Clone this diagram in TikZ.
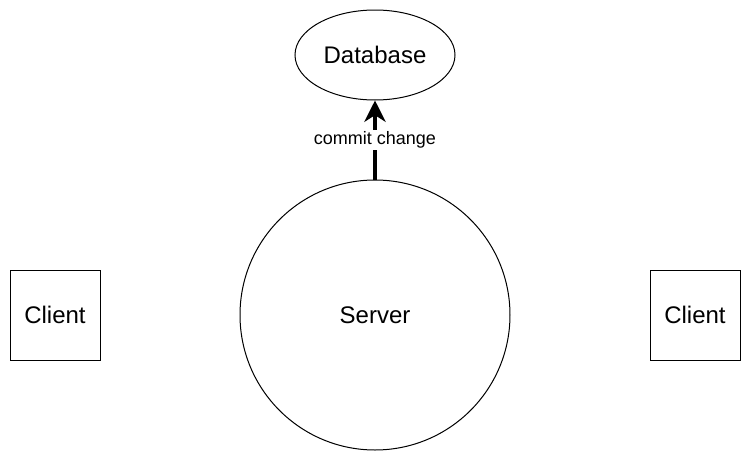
\documentclass[tikz,border=0pt]{standalone}
\usepackage{fontspec}
\setmainfont{Liberation Sans}
\usetikzlibrary{shapes.geometric,arrows.meta}
\begin{document}
\begin{tikzpicture}[x=0.75pt,y=-0.75pt,
  shapebox/.style={draw=black,line width=0.75pt,inner sep=0pt,font=\fontsize{18}{21}\selectfont},
  lbl/.style={fill=white,inner sep=1.5pt,font=\fontsize{13.5}{16}\selectfont}]
\useasboundingbox (0,0) rectangle (751,461);
\node[shapebox,ellipse,minimum width=160*0.75pt,minimum height=90*0.75pt] (db) at (375,55) {Database};
\node[shapebox,circle,minimum size=270*0.75pt] (srv) at (375,315) {Server};
\node[shapebox,rectangle,minimum width=90*0.75pt,minimum height=90*0.75pt] (c1) at (55,315) {Client};
\node[shapebox,rectangle,minimum width=90*0.75pt,minimum height=90*0.75pt] (c2) at (695,315) {Client};
\draw[line width=3pt,-{Stealth[length=16pt,width=16pt,inset=5pt]}] (srv.north) -- (db.south) node[lbl,pos=0.5] {commit change};
\end{tikzpicture}
\end{document}
